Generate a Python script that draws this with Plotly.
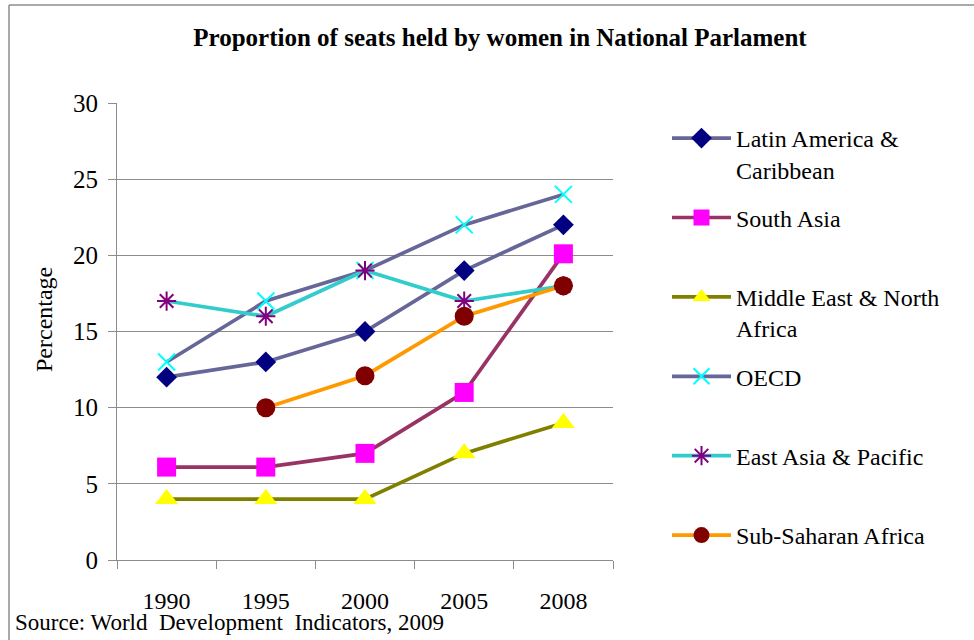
import plotly.graph_objects as go

years = ["1990", "1995", "2000", "2005", "2008"]
latin_america = [12, 13, 15, 19, 22]
south_asia = [6.1, 6.1, 7, 11, 20.1]
mena = [4, 4, 4, 7, 9]
oecd = [13, 17, 19, 22, 24]
east_asia = [17, 16, 19, 17, 18]
ssa = [None, 10, 12.1, 16, 18]

FONT = "Liberation Serif, Times New Roman, serif"

# pixel geometry helpers
W, H = 974, 640
L, R, T, B = 117, 613, 103, 560
PW, PH = R - L, B - T


def px(x):
    return (x - L) / PW


def py(y):
    return (B - y) / PH


series = [
    ("Latin America &<br>Caribbean", latin_america, "#666699", "diamond", "#000080", 16, None),
    ("South Asia<br>\u00a0", south_asia, "#993366", "square", "#FF00FF", 19, None),
    ("Middle East & North<br>Africa", mena, "#808000", "triangle-up", "#FFFF00", 20, None),
    ("OECD<br>\u00a0", oecd, "#666699", "x-thin", "#00FFFF", 17, "#00FFFF"),
    ("East Asia & Pacific<br>\u00a0", east_asia, "#33CCCC", "asterisk", "#800080", 16, "#800080"),
    ("Sub-Saharan Africa", ssa, "#FF9900", "circle", "#800000", 19, None),
]

fig = go.Figure()
for i, (name, vals, lc, sym, mc, ms, mlc) in enumerate(series):
    marker = dict(symbol=sym, size=ms, color=mc)
    if mlc:
        marker["line"] = dict(color=mlc, width=2)
    else:
        marker["line"] = dict(width=0)
    fig.add_trace(go.Scatter(
        x=years, y=vals, name=name, mode="lines+markers",
        line=dict(color=lc, width=3.7),
        marker=marker, legendgroup=f"g{i}",
    ))

fig.update_layout(
    width=W, height=H,
    margin=dict(l=L, r=W - R, t=T, b=H - B),
    paper_bgcolor="white", plot_bgcolor="white",
    font=dict(family=FONT, size=24, color="black"),
    title=dict(
        text="<b>Proportion of seats held by women in National Parlament</b>",
        x=500 / W, y=1 - 37 / H, xanchor="center", yanchor="middle",
        font=dict(family=FONT, size=25, color="black"),
    ),
    showlegend=True,
    legend=dict(
        x=px(667), y=py(116), xanchor="left", yanchor="top",
        font=dict(family=FONT, size=24, color="black"),
        itemwidth=59, valign="top", tracegroupgap=14,
        bgcolor="rgba(0,0,0,0)", maxheight=620,
    ),
    xaxis=dict(
        type="category", tickson="boundaries", showgrid=False,
        ticks="outside", ticklen=8, tickcolor="#8c8c8c",
        showline=True, linecolor="#8c8c8c", linewidth=1,
        tickfont=dict(family=FONT, size=24, color="black"),
        ticklabelstandoff=19, range=[-0.5, 4.5],
    ),
    yaxis=dict(
        range=[0, 30], dtick=5, tick0=0,
        showgrid=True, gridcolor="#8c8c8c", gridwidth=1,
        ticks="outside", ticklen=8, tickcolor="#8c8c8c",
        showline=True, linecolor="#8c8c8c", linewidth=1,
        zeroline=False,
        tickfont=dict(family=FONT, size=25, color="black"),
        ticklabelstandoff=5,
    ),
    annotations=[
        dict(text="Percentage", textangle=-90, x=px(44), y=py(320),
             xref="paper", yref="paper", showarrow=False,
             xanchor="center", yanchor="middle",
             font=dict(family=FONT, size=24, color="black")),
        dict(text="Source: World  Development  Indicators, 2009", x=px(13), y=py(622),
             xref="paper", yref="paper", showarrow=False,
             xanchor="left", yanchor="middle",
             font=dict(family=FONT, size=23, color="black")),
    ],
    shapes=[
        dict(type="line", xref="paper", yref="paper",
             x0=px(9), x1=px(W + 5), y0=py(5), y1=py(5),
             line=dict(color="#8c8c8c", width=1.5)),
        dict(type="line", xref="paper", yref="paper",
             x0=px(9), x1=px(9), y0=py(5), y1=py(H + 5),
             line=dict(color="#8c8c8c", width=1.5)),
    ],
)

fig.write_html(
    "out.html",
    config={"displayModeBar": False},
    post_script="document.body.style.margin='0px';document.body.style.overflow='hidden';",
)
